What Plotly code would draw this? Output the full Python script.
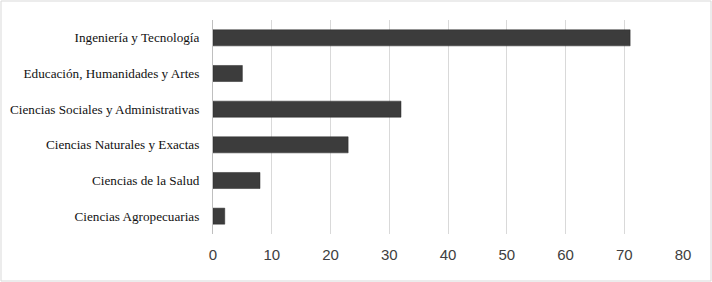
import plotly.graph_objects as go

categories = [
    "Ciencias Agropecuarias",
    "Ciencias de la Salud",
    "Ciencias Naturales y Exactas",
    "Ciencias Sociales y Administrativas",
    "Educación, Humanidades y Artes",
    "Ingeniería y Tecnología",
]
values = [2, 8, 23, 32, 5, 71]
x_ticks = [0, 10, 20, 30, 40, 50, 60, 70, 80]

W, H = 712, 282
L, R, T, B = 213, 29, 20, 48
pw, ph = W - L - R, H - T - B

fig = go.Figure(go.Bar(
    x=values, y=categories, orientation="h",
    marker=dict(color="#3c3c3c", line=dict(color="#2a2a2a", width=0.5)),
    width=0.45,
))

fig.update_layout(
    width=W, height=H,
    margin=dict(l=L, r=R, t=T, b=B, autoexpand=False),
    paper_bgcolor="white", plot_bgcolor="white",
    showlegend=False,
    xaxis=dict(
        range=[0, 80], tickvals=x_ticks, showgrid=True, gridcolor="#d9d9d9", gridwidth=1,
        zeroline=False, showline=False, ticks="", automargin=False,
        tickfont=dict(family="Liberation Sans, Arial", size=15, color="#404040"),
        ticklabelstandoff=10,
    ),
    yaxis=dict(
        showgrid=False, showline=True, linecolor="#bfbfbf", linewidth=1, ticks="", automargin=False,
        tickfont=dict(family="Liberation Serif, Times New Roman, serif", size=13.2, color="#111111"),
        ticklabelstandoff=10,
    ),
    shapes=[dict(
        type="rect", xref="paper", yref="paper",
        x0=(1 - L) / pw, x1=(W - 1 - L) / pw,
        y0=-(H - 1 - (T + ph)) / ph, y1=(T + ph - 1) / ph,
        line=dict(color="#d9d9d9", width=1), fillcolor="rgba(0,0,0,0)", layer="below",
    )],
)

fig.write_html("out.html", config={"displayModeBar": False},
               post_script="document.body.style.margin='0';")
